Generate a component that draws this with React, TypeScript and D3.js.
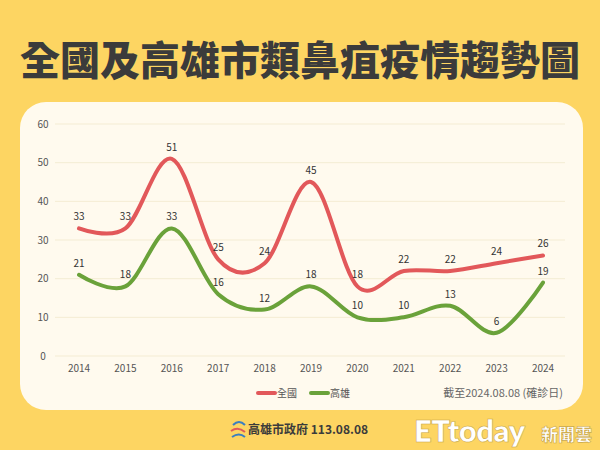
import React from "react";
import * as d3 from "d3";

const years = ["2014", "2015", "2016", "2017", "2018", "2019", "2020", "2021", "2022", "2023", "2024"];
const national = [33, 33, 51, 25, 24, 45, 18, 22, 22, 24, 26];
const kaohsiung = [21, 18, 33, 16, 12, 18, 10, 10, 13, 6, 19];
const yTicks = [0, 10, 20, 30, 40, 50, 60];

const W = 600;
const H = 450;
const FONT = "'Noto Sans CJK TC', 'Noto Sans', sans-serif";
const RED = "#E2585A";
const GREEN = "#6AA23A";

export default function App() {
  const x = d3.scalePoint<string>().domain(years).range([79, 543]);
  const y = d3.scaleLinear().domain([0, 60]).range([356, 124]);

  const line = d3
    .line<number>()
    .x((_, i) => x(years[i]) as number)
    .y((d) => y(d))
    .curve(d3.curveCatmullRom.alpha(0));

  const series = [
    { name: "全國", values: national, color: RED },
    { name: "高雄", values: kaohsiung, color: GREEN },
  ];

  return (
    <svg width={W} height={H} style={{ position: "absolute", left: 0, top: 0 }} fontFamily={FONT}>
      <rect width={W} height={H} fill="#FDD562" />
      <text x={300} y={75} textAnchor="middle" fontSize={40} fontWeight={900} fill="#3B3B3B">
        全國及高雄市類鼻疽疫情趨勢圖
      </text>
      <rect x={20} y={102} width={563} height={308} rx={26} fill="#FFFAEE" />

      {yTicks.map((t) => (
        <g key={t}>
          <line x1={55} x2={565} y1={y(t)} y2={y(t)} stroke="#F4ECD3" strokeWidth={1} />
          <text x={43} y={y(t)} dy="0.35em" textAnchor="middle" fontSize={10} fill="#555">
            {t}
          </text>
        </g>
      ))}
      {years.map((yr) => (
        <text key={yr} x={x(yr)} y={372} textAnchor="middle" fontSize={10} fill="#555">
          {yr}
        </text>
      ))}

      {series.map((s) => (
        <g key={s.name}>
          <path d={line(s.values) ?? ""} fill="none" stroke={s.color} strokeWidth={4} strokeLinecap="round" />
          {s.values.map((v, i) => (
            <text key={i} x={x(years[i])} y={y(v) - 8} textAnchor="middle" fontSize={10} fill="#333">
              {v}
            </text>
          ))}
        </g>
      ))}

      <g fontSize={10} fill="#555">
        <line x1={258} x2={275} y1={393} y2={393} stroke={RED} strokeWidth={4} strokeLinecap="round" />
        <text x={277} y={393} dy="0.35em">全國</text>
        <line x1={311} x2={328} y1={393} y2={393} stroke={GREEN} strokeWidth={4} strokeLinecap="round" />
        <text x={330} y={393} dy="0.35em">高雄</text>
        <text x={563} y={393} dy="0.35em" textAnchor="end" fontSize={11} fill="#666">
          截至2024.08.08 (確診日)
        </text>
      </g>

      <g>
        <path d="M233,425 q6,-6 12,0" stroke="#3C7FC0" strokeWidth={2} fill="none" />
        <path d="M231,431 q7,-5 14,1" stroke="#E05A5A" strokeWidth={2} fill="none" />
        <path d="M232,437 q7,-5 13,0" stroke="#3C7FC0" strokeWidth={2} fill="none" />
        <text x={248} y={430} dy="0.35em" fontSize={12} fontWeight={700} fill="#3B3B3B">
          高雄市政府 113.08.08
        </text>
      </g>

      <g fill="#fff" stroke="#C9A540" strokeWidth={0.6}>
        <text x={414} y={442} fontSize={31} fontWeight={800} fontFamily="'Lato', 'Open Sans', sans-serif" letterSpacing={-0.5}>
          ETtoday
        </text>
        <text x={541} y={441} fontSize={17} fontWeight={900}>
          新聞雲
        </text>
      </g>
    </svg>
  );
}
